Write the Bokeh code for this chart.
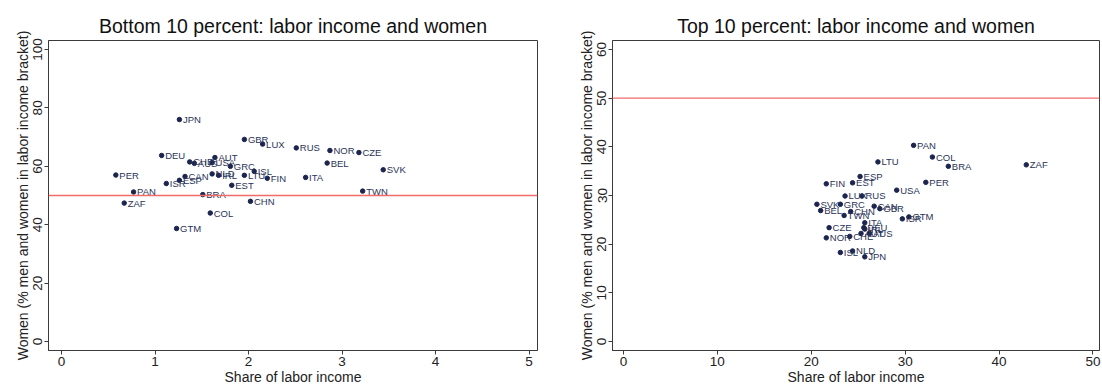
from bokeh.plotting import figure
from bokeh.models import Span, FixedTicker, ColumnDataSource, Range1d
from bokeh.layouts import row
from bokeh.embed import file_html
from bokeh.resources import INLINE
from bokeh.core.properties import value

# ---- data: bottom 10 percent ----
bottom_countries = ["JPN", "GBR", "LUX", "DEU", "CHE", "AUS", "USA", "AUT", "GRC", "PER",
                    "CAN", "ESP", "ISR", "NLD", "IRL", "LTU", "ISL", "FIN", "EST", "PAN",
                    "BRA", "ZAF", "CHN", "COL", "GTM", "RUS", "NOR", "CZE", "BEL", "SVK",
                    "ITA", "TWN"]
bottom_share = [1.26, 1.955, 2.15, 1.07, 1.37, 1.42, 1.61, 1.64, 1.805, 0.58,
                1.32, 1.26, 1.12, 1.61, 1.68, 1.955, 2.06, 2.20, 1.82, 0.77,
                1.51, 0.67, 2.02, 1.59, 1.23, 2.51, 2.87, 3.18, 2.84, 3.44,
                2.61, 3.22]
bottom_women = [76.0, 69.2, 67.6, 63.7, 61.5, 61.0, 61.3, 63.0, 60.0, 57.0,
                56.5, 55.2, 54.1, 57.4, 56.9, 56.9, 58.3, 55.9, 53.5, 51.2,
                50.3, 47.4, 48.0, 44.0, 38.7, 66.3, 65.4, 64.7, 61.1, 58.8,
                56.2, 51.5]

# ---- data: top 10 percent ----
top_countries = ["PAN", "COL", "BRA", "ZAF", "PER", "LTU", "ESP", "EST", "FIN", "USA",
                 "LUX", "RUS", "SVK", "GRC", "BEL", "CHN", "TWN", "CAN", "GBR", "ISR",
                 "GTM", "ITA", "DEU", "IRL", "CZE", "NOR", "CHE", "AUT", "AUS", "ISL",
                 "NLD", "JPN"]
top_share = [30.9, 32.9, 34.6, 42.9, 32.2, 27.1, 25.2, 24.4, 21.6, 29.1,
             23.6, 25.4, 20.6, 23.1, 21.0, 24.2, 23.5, 26.7, 27.3, 29.7,
             30.4, 25.7, 25.6, 25.7, 21.9, 21.6, 24.1, 25.3, 26.2, 23.1,
             24.4, 25.7]
top_women = [40.3, 37.9, 36.0, 36.3, 32.7, 36.9, 33.9, 32.6, 32.4, 31.1,
             29.9, 29.9, 28.2, 28.2, 26.9, 26.7, 25.9, 27.8, 27.3, 25.2,
             25.6, 24.4, 23.4, 23.1, 23.4, 21.3, 21.6, 22.2, 22.2, 18.3,
             18.6, 17.4]

FONT = "Liberation Sans"
DOT = "#1b2550"
LAB = "#2a3358"
AX = "#3a3a3a"
H = 387


def make_panel(title, xs, ys, names, xr, yr, xticks, yticks, width, mbl, mbr):
    p = figure(width=width, height=H, output_backend="svg", toolbar_location=None,
               x_range=Range1d(*xr), y_range=Range1d(*yr),
               min_border_left=mbl, min_border_right=mbr, min_border_top=40,
               min_border_bottom=0)
    p.title.text = title
    p.title.text_font = FONT
    p.title.text_font_size = "19.5px"
    p.title.text_font_style = "normal"
    p.title.text_color = "#111111"
    p.title.align = "center"
    p.title.standoff = 7
    src = ColumnDataSource(dict(x=xs, y=ys, n=names))
    p.scatter("x", "y", source=src, size=4.5, color=DOT)
    p.text("x", "y", text="n", source=src, x_offset=3.5, text_baseline="middle",
           text_font=value(FONT), text_font_size="9.5px", text_color=LAB)
    p.add_layout(Span(location=50, dimension="width", line_color="#f26b6b", line_width=1.3))
    p.xgrid.visible = False
    p.ygrid.visible = False
    p.outline_line_color = AX
    p.outline_line_alpha = 1
    p.xaxis.ticker = FixedTicker(ticks=xticks)
    p.yaxis.ticker = FixedTicker(ticks=yticks)
    for ax in (p.xaxis[0], p.yaxis[0]):
        ax.axis_line_color = AX
        ax.major_tick_line_color = AX
        ax.minor_tick_line_color = None
        ax.major_tick_out = 4
        ax.major_tick_in = 0
        ax.major_label_text_font = FONT
        ax.major_label_text_font_size = "13.5px"
        ax.major_label_text_color = "#222222"
        ax.axis_label_text_font = FONT
        ax.axis_label_text_font_size = "14px"
        ax.axis_label_text_font_style = "normal"
        ax.axis_label_text_color = "#222222"
        ax.major_label_standoff = 2
        ax.axis_label_standoff = 0
    p.xaxis.axis_label = "Share of labor income"
    p.yaxis.axis_label = "Women (% men and women in labor income bracket)"
    p.yaxis.major_label_orientation = "vertical"
    return p


left = make_panel("Bottom 10 percent: labor income and women", bottom_share, bottom_women,
                  bottom_countries, (-0.14, 5.09), (-3.06, 103.06), [0, 1, 2, 3, 4, 5],
                  [0, 20, 40, 60, 80, 100], 565, 48, 28)
right = make_panel("Top 10 percent: labor income and women", top_share, top_women,
                   top_countries, (-1.17, 50.7), (-1.84, 61.84), [0, 10, 20, 30, 40, 50],
                   [0, 10, 20, 30, 40, 50, 60], 536, 47, 2)

layout = row(left, right)
open("out.html", "w").write(file_html(layout, INLINE))
